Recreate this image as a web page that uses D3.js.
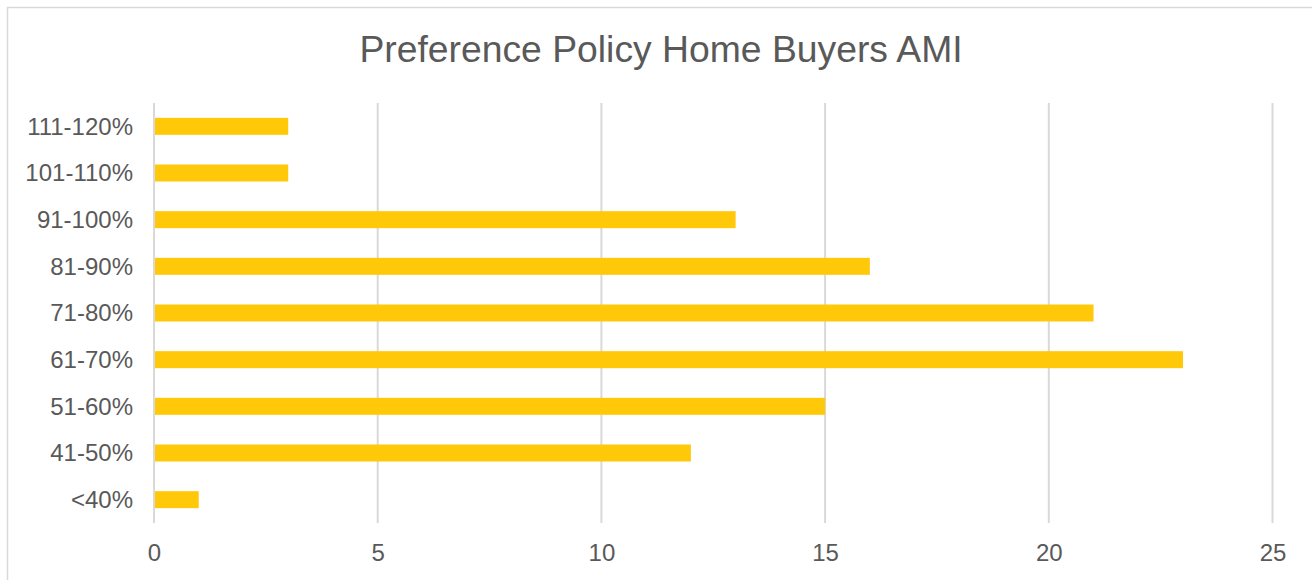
<!DOCTYPE html>
<html>
<head>
<meta charset="utf-8">
<script src="https://cdn.jsdelivr.net/npm/d3@7"></script>
<style>
  html, body { margin: 0; padding: 0; background: #fff; }
  svg { display: block; }
</style>
</head>
<body>
<svg id="chart" width="1312" height="580"></svg>
<script>
const categories = ["<40%", "41-50%", "51-60%", "61-70%", "71-80%", "81-90%", "91-100%", "101-110%", "111-120%"];
const values = [1, 12, 15, 23, 21, 16, 13, 3, 3];
const xTicks = [0, 5, 10, 15, 20, 25];
const chartTitle = "Preference Policy Home Buyers AMI";

(function () {
const svg = d3.select("#chart");
const W = 1312, H = 580;
const font = "'Liberation Sans', Arial, sans-serif";
const textColor = "#595959";
const gridColor = "#D9D9D9";
const barColor = "#FFC90A";

// chart border
svg.append("rect")
  .attr("x", 7.5).attr("y", 7.5)
  .attr("width", W + 10).attr("height", H + 10)
  .attr("fill", "#fff").attr("stroke", gridColor).attr("stroke-width", 1.5);

const pLeft = 154, pRight = 1272.5, pTop = 103, pBottom = 523;

const x = d3.scaleLinear().domain([0, 25]).range([pLeft, pRight]);
const y = d3.scaleBand().domain(categories.slice().reverse()).range([pTop, pBottom]).paddingInner(0.636).paddingOuter(0.318);

// gridlines
svg.append("g").selectAll("line").data(xTicks).join("line")
  .attr("x1", d => x(d)).attr("x2", d => x(d))
  .attr("y1", pTop).attr("y2", pBottom)
  .attr("stroke", gridColor).attr("stroke-width", 2);

// bars
svg.append("g").selectAll("rect").data(categories).join("rect")
  .attr("x", x(0) + 1)
  .attr("y", d => y(d))
  .attr("width", (d, i) => x(values[i]) - x(0) - 1)
  .attr("height", y.bandwidth())
  .attr("fill", barColor);

// x axis labels
const xAxis = d3.axisBottom(x).tickValues(xTicks).tickSize(0).tickPadding(0).tickFormat(d3.format("d"));
const gx = svg.append("g").attr("transform", `translate(0, ${pBottom + 21})`).call(xAxis);
gx.select(".domain").remove();
gx.selectAll("text").attr("fill", textColor).attr("font-family", font).attr("font-size", 24);

// y axis labels
const yAxis = d3.axisLeft(y).tickSize(0).tickPadding(0);
const gy = svg.append("g").attr("transform", `translate(${pLeft - 21}, 0)`).call(yAxis);
gy.select(".domain").remove();
gy.selectAll("text").attr("fill", textColor).attr("font-family", font).attr("font-size", 24).attr("dy", "0.35em");

// title
svg.append("text")
  .attr("x", 661).attr("y", 62)
  .attr("text-anchor", "middle")
  .attr("fill", textColor)
  .attr("font-family", font)
  .attr("font-size", 37.3)
  .text(chartTitle);
})();
</script>
</body>
</html>
